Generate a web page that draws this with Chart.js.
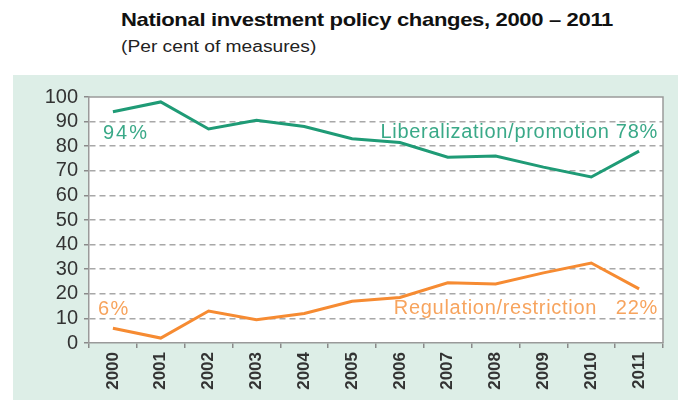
<!DOCTYPE html>
<html>
<head>
<meta charset="utf-8">
<script src="https://cdn.jsdelivr.net/npm/chart.js@4"></script>
<style>
  html, body { margin: 0; padding: 0; background: #fff; }
  #wrap { position: relative; width: 678px; height: 400px; overflow: hidden; font-family: "Liberation Sans", Arial, sans-serif; }
  #panel { position: absolute; left: 13px; top: 75px; right: 0; bottom: 0; background: #ddeee7; }
  #title { position: absolute; left: 121px; top: 9px; font-size: 19px; font-weight: bold; color: #111; letter-spacing: -0.3px; transform: scaleX(1.16); transform-origin: left top; white-space: nowrap; }
  #subtitle { position: absolute; left: 121px; top: 38px; font-size: 16px; color: #222; transform: scaleX(1.2); transform-origin: left top; white-space: nowrap; }
  canvas { position: absolute; left: 0; top: 0; }
</style>
</head>
<body>
<div id="wrap">
  <div id="panel"></div>
  <div id="title">National investment policy changes, 2000 – 2011</div>
  <div id="subtitle">(Per cent of measures)</div>
  <canvas id="chart" width="678" height="400"></canvas>
</div>
<script>
(function(){
  const years = ["2000","2001","2002","2003","2004","2005","2006","2007","2008","2009","2010","2011"];
  const liberalization = [94, 98, 87, 90.5, 88, 83, 81.5, 75.5, 76, 71.5, 67.5, 78];
  const regulation = [6, 2, 13, 9.5, 12, 17, 18.5, 24.5, 24, 28.5, 32.5, 22];
  const yTicks = [0, 10, 20, 30, 40, 50, 60, 70, 80, 90, 100];

  const GREEN = "#1f9b76";
  const ORANGE = "#f68b32";
  const GREEN_TXT = "#3aa988";
  const ORANGE_TXT = "#f7a45e";

  const labelsPlugin = {
    id: "labels",
    beforeDraw(chart){
      const { ctx, chartArea: a } = chart;
      ctx.save();
      ctx.fillStyle = "#fff";
      ctx.fillRect(a.left, a.top, a.right - a.left, a.bottom - a.top);
      ctx.restore();
    },
    afterDraw(chart){
      const { ctx, chartArea: a } = chart;
      const x = chart.scales.x, y = chart.scales.y;
      ctx.save();
      // plot frame top/right
      ctx.strokeStyle = "#9a9a9a";
      ctx.lineWidth = 1.5;
      ctx.beginPath();
      ctx.moveTo(a.left, a.top);
      ctx.lineTo(a.right, a.top);
      ctx.lineTo(a.right, a.bottom);
      ctx.stroke();

      ctx.font = "20px 'Liberation Sans', Arial, sans-serif";
      ctx.textBaseline = "middle";
      ctx.fillStyle = GREEN_TXT;
      ctx.textAlign = "left";
      ctx.letterSpacing = "2px";
      ctx.fillText("94%", x.getPixelForValue(0) - 10, y.getPixelForValue(85));
      ctx.letterSpacing = "0.7px";
      ctx.textAlign = "right";
      ctx.fillText("Liberalization/promotion 78%", a.right - 5, y.getPixelForValue(85.6));
      ctx.fillStyle = ORANGE_TXT;
      ctx.textAlign = "left";
      ctx.letterSpacing = "1.5px";
      ctx.fillText("6%", x.getPixelForValue(0) - 15, y.getPixelForValue(13.5));
      ctx.letterSpacing = "0.7px";
      ctx.textAlign = "right";
      ctx.fillText("Regulation/restriction   22%", a.right - 5, y.getPixelForValue(14));
      ctx.restore();
    }
  };

  new Chart(document.getElementById("chart"), {
    type: "line",
    data: {
      labels: years,
      datasets: [
        { label: "Liberalization/promotion", data: liberalization, borderColor: GREEN, borderWidth: 3, pointRadius: 0, tension: 0 },
        { label: "Regulation/restriction", data: regulation, borderColor: ORANGE, borderWidth: 3, pointRadius: 0, tension: 0 }
      ]
    },
    options: {
      responsive: false,
      animation: false,
      layout: { padding: { top: 97, right: 15, left: 0, bottom: 0 } },
      plugins: { legend: { display: false }, tooltip: { enabled: false } },
      scales: {
        x: {
          offset: true,
          grid: { display: true, drawOnChartArea: false, drawTicks: true, tickLength: 5, color: "#8a8a8a", lineWidth: 1.5, offset: true },
          border: { display: true, color: "#9a9a9a", width: 1.5 },
          ticks: { minRotation: 90, maxRotation: 90, autoSkip: false, color: "#333", padding: 4, font: { family: "'Liberation Sans', Arial, sans-serif", size: 17, weight: "bold" } },
          afterFit(scale){ scale.height = 57; }
        },
        y: {
          min: 0, max: 100,
          afterBuildTicks(scale){ scale.ticks = yTicks.map(v => ({ value: v })); },
          grid: {
            color: (c) => (c.tick && (c.tick.value === 0 || c.tick.value === 100)) ? "rgba(0,0,0,0)" : "#a8a8a8",
            lineWidth: 1.5,
            tickLength: 5,
            tickColor: "#8a8a8a"
          },
          border: { display: true, color: "#9a9a9a", width: 1.5, dash: [6, 4] },
          ticks: { autoSkip: false, color: "#333", padding: 6, font: { family: "'Liberation Sans', Arial, sans-serif", size: 20 } },
          afterFit(scale){ scale.width = 89; }
        }
      }
    },
    plugins: [labelsPlugin]
  });
})();
</script>
</body>
</html>
